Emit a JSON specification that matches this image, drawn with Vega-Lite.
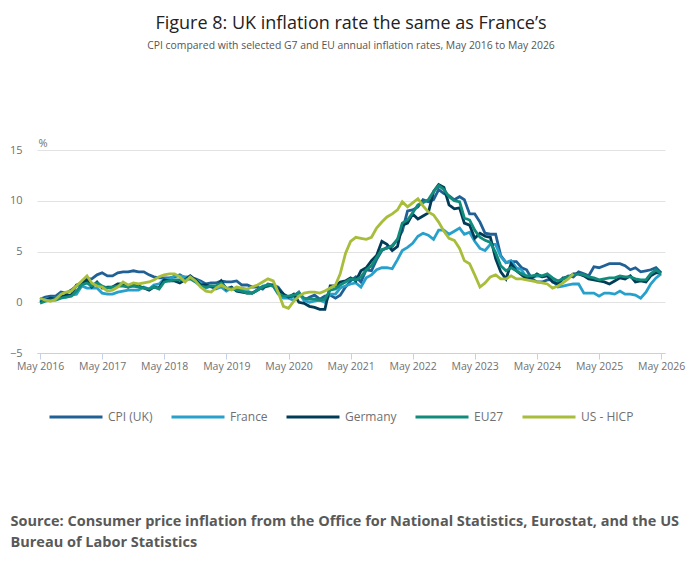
{
  "$schema": "https://vega.github.io/schema/vega-lite/v6.json",
  "description": "UK CPI compared with selected G7 and EU annual inflation rates, May 2016 to May 2026.",
  "width": 628,
  "height": 203,
  "autosize": {"type": "none"},
  "padding": {"left": 37, "top": 150, "right": 35, "bottom": 221},
  "background": "white",
  "title": {
    "text": "Figure 8: UK inflation rate the same as France’s",
    "subtitle": "CPI compared with selected G7 and EU annual inflation rates, May 2016 to May 2026",
    "anchor": "middle",
    "font": "Open Sans",
    "fontSize": 18,
    "fontWeight": "normal",
    "color": "#222222",
    "subtitleFont": "Open Sans",
    "subtitleFontSize": 10.4,
    "subtitleColor": "#555555",
    "subtitlePadding": 8,
    "offset": 86
  },
  "data": {
    "values": [
      {"m": "2016-05", "uk": 0.3, "fr": 0.1, "de": 0.0, "eu": -0.1, "us": 0.4},
      {"m": "2016-06", "uk": 0.5, "fr": 0.3, "de": 0.2, "eu": 0.1, "us": 0.2},
      {"m": "2016-07", "uk": 0.6, "fr": 0.4, "de": 0.4, "eu": 0.2, "us": 0.1},
      {"m": "2016-08", "uk": 0.6, "fr": 0.4, "de": 0.3, "eu": 0.2, "us": 0.3},
      {"m": "2016-09", "uk": 1.0, "fr": 0.5, "de": 0.5, "eu": 0.4, "us": 0.8},
      {"m": "2016-10", "uk": 0.9, "fr": 0.5, "de": 0.7, "eu": 0.5, "us": 1.0},
      {"m": "2016-11", "uk": 1.2, "fr": 0.7, "de": 0.7, "eu": 0.6, "us": 1.1},
      {"m": "2016-12", "uk": 1.6, "fr": 0.8, "de": 1.7, "eu": 1.1, "us": 1.6},
      {"m": "2017-01", "uk": 1.8, "fr": 1.6, "de": 1.9, "eu": 1.7, "us": 2.1},
      {"m": "2017-02", "uk": 2.3, "fr": 1.4, "de": 2.2, "eu": 1.9, "us": 2.6},
      {"m": "2017-03", "uk": 2.3, "fr": 1.4, "de": 1.5, "eu": 1.6, "us": 1.9},
      {"m": "2017-04", "uk": 2.7, "fr": 1.4, "de": 2.0, "eu": 1.9, "us": 1.6},
      {"m": "2017-05", "uk": 2.9, "fr": 0.9, "de": 1.4, "eu": 1.6, "us": 1.5},
      {"m": "2017-06", "uk": 2.6, "fr": 0.8, "de": 1.5, "eu": 1.4, "us": 1.1},
      {"m": "2017-07", "uk": 2.6, "fr": 0.8, "de": 1.5, "eu": 1.5, "us": 1.2},
      {"m": "2017-08", "uk": 2.9, "fr": 1.0, "de": 1.8, "eu": 1.6, "us": 1.5},
      {"m": "2017-09", "uk": 3.0, "fr": 1.1, "de": 1.8, "eu": 1.6, "us": 2.0},
      {"m": "2017-10", "uk": 3.0, "fr": 1.2, "de": 1.5, "eu": 1.5, "us": 1.7},
      {"m": "2017-11", "uk": 3.1, "fr": 1.2, "de": 1.8, "eu": 1.6, "us": 1.9},
      {"m": "2017-12", "uk": 3.0, "fr": 1.2, "de": 1.6, "eu": 1.5, "us": 1.8},
      {"m": "2018-01", "uk": 3.0, "fr": 1.5, "de": 1.4, "eu": 1.4, "us": 1.9},
      {"m": "2018-02", "uk": 2.7, "fr": 1.3, "de": 1.2, "eu": 1.3, "us": 2.0},
      {"m": "2018-03", "uk": 2.5, "fr": 1.7, "de": 1.5, "eu": 1.5, "us": 2.2},
      {"m": "2018-04", "uk": 2.4, "fr": 1.8, "de": 1.4, "eu": 1.3, "us": 2.5},
      {"m": "2018-05", "uk": 2.4, "fr": 2.3, "de": 2.2, "eu": 2.0, "us": 2.7},
      {"m": "2018-06", "uk": 2.4, "fr": 2.3, "de": 2.1, "eu": 2.1, "us": 2.8},
      {"m": "2018-07", "uk": 2.5, "fr": 2.6, "de": 2.1, "eu": 2.2, "us": 2.8},
      {"m": "2018-08", "uk": 2.7, "fr": 2.6, "de": 1.9, "eu": 2.2, "us": 2.5},
      {"m": "2018-09", "uk": 2.4, "fr": 2.5, "de": 2.2, "eu": 2.2, "us": 2.0},
      {"m": "2018-10", "uk": 2.4, "fr": 2.5, "de": 2.6, "eu": 2.3, "us": 2.5},
      {"m": "2018-11", "uk": 2.3, "fr": 2.2, "de": 2.2, "eu": 2.0, "us": 2.1},
      {"m": "2018-12", "uk": 2.1, "fr": 1.9, "de": 1.7, "eu": 1.6, "us": 1.5},
      {"m": "2019-01", "uk": 1.8, "fr": 1.4, "de": 1.7, "eu": 1.5, "us": 1.1},
      {"m": "2019-02", "uk": 1.9, "fr": 1.6, "de": 1.5, "eu": 1.6, "us": 1.0},
      {"m": "2019-03", "uk": 1.9, "fr": 1.3, "de": 1.4, "eu": 1.6, "us": 1.4},
      {"m": "2019-04", "uk": 2.1, "fr": 1.5, "de": 2.1, "eu": 1.9, "us": 1.7},
      {"m": "2019-05", "uk": 2.0, "fr": 1.1, "de": 1.3, "eu": 1.4, "us": 1.4},
      {"m": "2019-06", "uk": 2.0, "fr": 1.4, "de": 1.5, "eu": 1.4, "us": 1.2},
      {"m": "2019-07", "uk": 2.1, "fr": 1.3, "de": 1.1, "eu": 1.2, "us": 1.5},
      {"m": "2019-08", "uk": 1.7, "fr": 1.3, "de": 1.0, "eu": 1.1, "us": 1.4},
      {"m": "2019-09", "uk": 1.7, "fr": 1.1, "de": 0.9, "eu": 0.9, "us": 1.3},
      {"m": "2019-10", "uk": 1.5, "fr": 0.9, "de": 0.9, "eu": 0.9, "us": 1.5},
      {"m": "2019-11", "uk": 1.5, "fr": 1.2, "de": 1.2, "eu": 1.2, "us": 1.7},
      {"m": "2019-12", "uk": 1.3, "fr": 1.6, "de": 1.5, "eu": 1.5, "us": 2.0},
      {"m": "2020-01", "uk": 1.8, "fr": 1.7, "de": 1.6, "eu": 1.7, "us": 2.3},
      {"m": "2020-02", "uk": 1.7, "fr": 1.6, "de": 1.7, "eu": 1.6, "us": 2.1},
      {"m": "2020-03", "uk": 1.5, "fr": 0.8, "de": 1.3, "eu": 0.9, "us": 1.0},
      {"m": "2020-04", "uk": 0.8, "fr": 0.4, "de": 0.8, "eu": 0.6, "us": -0.4},
      {"m": "2020-05", "uk": 0.5, "fr": 0.4, "de": 0.5, "eu": 0.6, "us": -0.6},
      {"m": "2020-06", "uk": 0.6, "fr": 0.2, "de": 0.8, "eu": 0.7, "us": 0.1},
      {"m": "2020-07", "uk": 1.0, "fr": 0.9, "de": 0.0, "eu": 0.9, "us": 0.6},
      {"m": "2020-08", "uk": 0.2, "fr": 0.2, "de": -0.1, "eu": 0.4, "us": 0.9},
      {"m": "2020-09", "uk": 0.5, "fr": 0.0, "de": -0.4, "eu": 0.3, "us": 1.0},
      {"m": "2020-10", "uk": 0.7, "fr": 0.1, "de": -0.5, "eu": 0.3, "us": 1.0},
      {"m": "2020-11", "uk": 0.3, "fr": 0.2, "de": -0.7, "eu": 0.2, "us": 0.9},
      {"m": "2020-12", "uk": 0.6, "fr": 0.0, "de": -0.7, "eu": 0.3, "us": 1.1},
      {"m": "2021-01", "uk": 0.7, "fr": 0.8, "de": 1.6, "eu": 1.2, "us": 1.4},
      {"m": "2021-02", "uk": 0.4, "fr": 0.8, "de": 1.6, "eu": 1.3, "us": 1.7},
      {"m": "2021-03", "uk": 0.7, "fr": 1.4, "de": 2.0, "eu": 1.7, "us": 2.8},
      {"m": "2021-04", "uk": 1.5, "fr": 1.6, "de": 2.1, "eu": 2.0, "us": 4.8},
      {"m": "2021-05", "uk": 2.1, "fr": 1.8, "de": 2.4, "eu": 2.3, "us": 6.0},
      {"m": "2021-06", "uk": 2.5, "fr": 1.9, "de": 2.1, "eu": 2.2, "us": 6.4},
      {"m": "2021-07", "uk": 2.0, "fr": 1.5, "de": 3.1, "eu": 2.5, "us": 6.3},
      {"m": "2021-08", "uk": 3.2, "fr": 2.4, "de": 3.4, "eu": 3.2, "us": 6.2},
      {"m": "2021-09", "uk": 3.1, "fr": 2.7, "de": 4.1, "eu": 3.6, "us": 6.4},
      {"m": "2021-10", "uk": 4.2, "fr": 3.2, "de": 4.6, "eu": 4.4, "us": 7.3},
      {"m": "2021-11", "uk": 5.1, "fr": 3.4, "de": 6.0, "eu": 5.2, "us": 7.9},
      {"m": "2021-12", "uk": 5.4, "fr": 3.4, "de": 5.7, "eu": 5.3, "us": 8.4},
      {"m": "2022-01", "uk": 5.5, "fr": 3.3, "de": 5.1, "eu": 5.6, "us": 8.7},
      {"m": "2022-02", "uk": 6.2, "fr": 4.2, "de": 5.5, "eu": 6.2, "us": 9.1},
      {"m": "2022-03", "uk": 7.0, "fr": 5.1, "de": 7.6, "eu": 7.8, "us": 9.9},
      {"m": "2022-04", "uk": 9.0, "fr": 5.4, "de": 7.8, "eu": 8.1, "us": 9.4},
      {"m": "2022-05", "uk": 9.1, "fr": 5.8, "de": 8.7, "eu": 8.8, "us": 9.8},
      {"m": "2022-06", "uk": 9.4, "fr": 6.5, "de": 8.2, "eu": 9.6, "us": 10.2},
      {"m": "2022-07", "uk": 10.1, "fr": 6.8, "de": 8.5, "eu": 9.8, "us": 9.5},
      {"m": "2022-08", "uk": 9.9, "fr": 6.6, "de": 8.8, "eu": 10.1, "us": 8.9},
      {"m": "2022-09", "uk": 10.1, "fr": 6.2, "de": 10.9, "eu": 10.9, "us": 8.6},
      {"m": "2022-10", "uk": 11.1, "fr": 7.1, "de": 11.6, "eu": 11.5, "us": 7.9},
      {"m": "2022-11", "uk": 10.7, "fr": 7.1, "de": 11.3, "eu": 11.1, "us": 7.0},
      {"m": "2022-12", "uk": 10.5, "fr": 6.7, "de": 9.6, "eu": 10.4, "us": 6.3},
      {"m": "2023-01", "uk": 10.1, "fr": 7.0, "de": 9.2, "eu": 10.0, "us": 6.1},
      {"m": "2023-02", "uk": 10.4, "fr": 7.3, "de": 9.3, "eu": 9.9, "us": 5.3},
      {"m": "2023-03", "uk": 10.1, "fr": 6.7, "de": 7.8, "eu": 8.3, "us": 4.1},
      {"m": "2023-04", "uk": 8.7, "fr": 6.9, "de": 7.6, "eu": 8.1, "us": 3.8},
      {"m": "2023-05", "uk": 8.7, "fr": 6.0, "de": 6.3, "eu": 7.1, "us": 2.7},
      {"m": "2023-06", "uk": 7.9, "fr": 5.3, "de": 6.8, "eu": 6.4, "us": 1.5},
      {"m": "2023-07", "uk": 6.8, "fr": 5.1, "de": 6.5, "eu": 6.1, "us": 1.9},
      {"m": "2023-08", "uk": 6.7, "fr": 5.7, "de": 6.4, "eu": 5.9, "us": 2.5},
      {"m": "2023-09", "uk": 6.7, "fr": 5.7, "de": 4.3, "eu": 4.9, "us": 2.7},
      {"m": "2023-10", "uk": 4.6, "fr": 4.5, "de": 3.0, "eu": 3.6, "us": 2.3},
      {"m": "2023-11", "uk": 3.9, "fr": 3.9, "de": 2.3, "eu": 3.1, "us": 2.3},
      {"m": "2023-12", "uk": 4.0, "fr": 4.1, "de": 3.8, "eu": 3.4, "us": 2.6},
      {"m": "2024-01", "uk": 4.0, "fr": 3.4, "de": 3.1, "eu": 3.1, "us": 2.3},
      {"m": "2024-02", "uk": 3.4, "fr": 3.2, "de": 2.7, "eu": 2.8, "us": 2.3},
      {"m": "2024-03", "uk": 3.2, "fr": 2.4, "de": 2.3, "eu": 2.6, "us": 2.2},
      {"m": "2024-04", "uk": 2.3, "fr": 2.4, "de": 2.4, "eu": 2.6, "us": 2.1},
      {"m": "2024-05", "uk": 2.0, "fr": 2.6, "de": 2.8, "eu": 2.7, "us": 2.0},
      {"m": "2024-06", "uk": 2.0, "fr": 2.5, "de": 2.5, "eu": 2.6, "us": 1.9},
      {"m": "2024-07", "uk": 2.2, "fr": 2.7, "de": 2.6, "eu": 2.8, "us": 1.8},
      {"m": "2024-08", "uk": 2.2, "fr": 2.2, "de": 2.0, "eu": 2.4, "us": 1.4},
      {"m": "2024-09", "uk": 1.7, "fr": 1.5, "de": 1.8, "eu": 2.1, "us": 1.6},
      {"m": "2024-10", "uk": 2.3, "fr": 1.6, "de": 2.4, "eu": 2.3, "us": 1.9},
      {"m": "2024-11", "uk": 2.6, "fr": 1.7, "de": 2.4, "eu": 2.5, "us": 2.3},
      {"m": "2024-12", "uk": 2.5, "fr": 1.8, "de": 2.8, "eu": 2.7, "us": 2.8},
      {"m": "2025-01", "uk": 3.0, "fr": 1.8, "de": 2.8, "eu": 2.8, "us": null},
      {"m": "2025-02", "uk": 2.8, "fr": 0.9, "de": 2.6, "eu": 2.7, "us": null},
      {"m": "2025-03", "uk": 2.6, "fr": 0.9, "de": 2.3, "eu": 2.5, "us": null},
      {"m": "2025-04", "uk": 3.5, "fr": 0.9, "de": 2.2, "eu": 2.4, "us": null},
      {"m": "2025-05", "uk": 3.4, "fr": 0.6, "de": 2.1, "eu": 2.2, "us": null},
      {"m": "2025-06", "uk": 3.6, "fr": 0.9, "de": 2.0, "eu": 2.3, "us": null},
      {"m": "2025-07", "uk": 3.8, "fr": 0.9, "de": 1.8, "eu": 2.4, "us": null},
      {"m": "2025-08", "uk": 3.8, "fr": 0.8, "de": 2.1, "eu": 2.4, "us": null},
      {"m": "2025-09", "uk": 3.8, "fr": 1.1, "de": 2.4, "eu": 2.6, "us": null},
      {"m": "2025-10", "uk": 3.6, "fr": 0.8, "de": 2.3, "eu": 2.5, "us": null},
      {"m": "2025-11", "uk": 3.2, "fr": 0.8, "de": 2.6, "eu": 2.5, "us": null},
      {"m": "2025-12", "uk": 3.4, "fr": 0.7, "de": 2.0, "eu": 2.3, "us": null},
      {"m": "2026-01", "uk": 3.0, "fr": 0.4, "de": 2.1, "eu": 2.2, "us": null},
      {"m": "2026-02", "uk": 3.1, "fr": 1.0, "de": 2.0, "eu": 2.2, "us": null},
      {"m": "2026-03", "uk": 3.2, "fr": 1.8, "de": 2.6, "eu": 2.8, "us": null},
      {"m": "2026-04", "uk": 3.4, "fr": 2.4, "de": 2.9, "eu": 3.2, "us": null},
      {"m": "2026-05", "uk": 2.9, "fr": 2.8, "de": 2.9, "eu": 2.8, "us": null}
    ]
  },
  "transform": [
    {"fold": ["uk", "fr", "de", "eu", "us"], "as": ["series", "value"]},
    {"filter": "isValid(datum.value)"}
  ],
  "mark": {"type": "line", "strokeWidth": 2.8},
  "encoding": {
    "x": {
      "field": "m",
      "type": "temporal",
      "scale": {
        "type": "utc",
        "domain": [
          {"year": 2016, "month": 4, "date": 13, "utc": true},
          {"year": 2026, "month": 5, "date": 24, "utc": true}
        ]
      },
      "axis": {
        "values": [
          {"year": 2016, "month": 5, "date": 1, "utc": true},
          {"year": 2017, "month": 5, "date": 1, "utc": true},
          {"year": 2018, "month": 5, "date": 1, "utc": true},
          {"year": 2019, "month": 5, "date": 1, "utc": true},
          {"year": 2020, "month": 5, "date": 1, "utc": true},
          {"year": 2021, "month": 5, "date": 1, "utc": true},
          {"year": 2022, "month": 5, "date": 1, "utc": true},
          {"year": 2023, "month": 5, "date": 1, "utc": true},
          {"year": 2024, "month": 5, "date": 1, "utc": true},
          {"year": 2025, "month": 5, "date": 1, "utc": true},
          {"year": 2026, "month": 5, "date": 1, "utc": true}
        ],
        "labelExpr": "utcFormat(datum.value, '%b %Y')",
        "grid": false,
        "domainColor": "#c5d1e6",
        "tickColor": "#c5d1e6",
        "tickSize": 6,
        "labelFont": "Open Sans",
        "labelFontSize": 10.5,
        "labelColor": "#707071",
        "labelPadding": 2,
        "labelOverlap": false,
        "labelFlush": false,
        "title": [
          "Source: Consumer price inflation from the Office for National Statistics, Eurostat, and the US",
          "Bureau of Labor Statistics"
        ],
        "titleFont": "Open Sans",
        "titleFontSize": 14.5,
        "titleFontWeight": "bold",
        "titleColor": "#595959",
        "titleAnchor": "start",
        "titleAlign": "left",
        "titleBaseline": "alphabetic",
        "titleLineHeight": 21.5,
        "titleX": -27,
        "titleY": 172
      }
    },
    "y": {
      "field": "value",
      "type": "quantitative",
      "scale": {"domain": [-5, 15], "nice": false},
      "axis": {
        "values": [-5, 0, 5, 10, 15],
        "domain": false,
        "ticks": false,
        "grid": true,
        "gridColor": "#e2e2e2",
        "labelFont": "Open Sans",
        "labelFontSize": 11,
        "labelColor": "#707071",
        "labelPadding": 15,
        "title": "%",
        "titleFont": "Open Sans",
        "titleFontSize": 11,
        "titleFontWeight": "normal",
        "titleColor": "#707071",
        "titleAngle": 0,
        "titleAlign": "left",
        "titleBaseline": "alphabetic",
        "titleX": 1,
        "titleY": -4
      }
    },
    "color": {
      "field": "series",
      "type": "nominal",
      "scale": {
        "domain": ["uk", "fr", "de", "eu", "us"],
        "range": ["#206095", "#27a0cc", "#003c57", "#118c7b", "#a8bd3a"]
      },
      "legend": {
        "title": null,
        "orient": "none",
        "direction": "horizontal",
        "columns": 5,
        "legendX": 11,
        "legendY": 239,
        "symbolType": "stroke",
        "symbolSize": 2809,
        "symbolStrokeWidth": 3,
        "labelFont": "Open Sans",
        "labelFontSize": 12,
        "labelColor": "#707071",
        "labelOffset": 4,
        "columnPadding": 12,
        "labelExpr": "datum.label == 'uk' ? 'CPI (UK)' : datum.label == 'fr' ? 'France' : datum.label == 'de' ? 'Germany' : datum.label == 'eu' ? 'EU27' : 'US - HICP'"
      }
    }
  },
  "config": {
    "view": {"stroke": null},
    "font": "Open Sans"
  }
}
